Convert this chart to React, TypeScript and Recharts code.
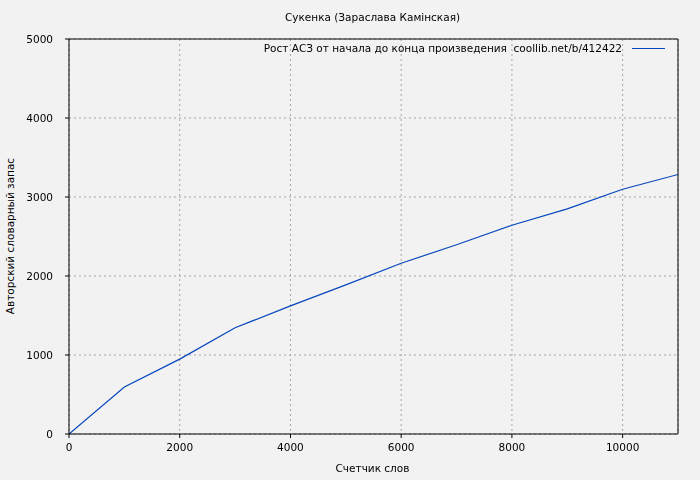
import { CartesianGrid, Line, LineChart, ReferenceLine, XAxis, YAxis } from "recharts";

const words = [0, 1000, 2000, 3000, 4000, 5000, 6000, 7000, 8000, 9000, 10000, 11000];
const vocab = [0, 595, 948, 1345, 1622, 1888, 2162, 2395, 2643, 2850, 3098, 3285];
const xTicks = [0, 2000, 4000, 6000, 8000, 10000];
const yTicks = [0, 1000, 2000, 3000, 4000, 5000];

const TITLE = "Сукенка (Зараслава Камінская)";
const SERIES_NAME = "Рост АСЗ от начала до конца произведения  coollib.net/b/412422";
const X_LABEL = "Счетчик слов";
const Y_LABEL = "Авторский словарный запас";

const FONT = "'DejaVu Sans', sans-serif";
const LINE_COLOR = "#0646bd";

const data = words.map((w, i) => ({ words: w, vocab: vocab[i] }));

export default function App() {
  return (
    <div style={{ position: "fixed", left: 0, top: 0, width: 700, height: 480, background: "#f2f2f2", fontFamily: FONT }}>
      <div style={{ position: "absolute", top: 11, left: 0, width: 745, textAlign: "center", fontSize: 10.5 }}>{TITLE}</div>
      <div style={{ position: "absolute", top: 462, left: 0, width: 745, textAlign: "center", fontSize: 10.5 }}>{X_LABEL}</div>
      <div
        style={{
          position: "absolute",
          left: 10,
          top: 236,
          transform: "translate(-50%, -50%) rotate(-90deg)",
          whiteSpace: "nowrap",
          fontSize: 10.5,
        }}
      >
        {Y_LABEL}
      </div>
      <LineChart width={700} height={480} data={data} margin={{ top: 39, right: 22, bottom: 16, left: 9 }}>
        <CartesianGrid stroke="#a6a6a6" strokeDasharray="2 3" />
        <XAxis
          dataKey="words"
          type="number"
          domain={[0, 11000]}
          ticks={xTicks}
          height={30}
          stroke="#000"
          tickSize={4}
          tickMargin={6}
          tick={{ fill: "#000", fontSize: 10.5, fontFamily: FONT }}
          allowDataOverflow
        />
        <YAxis
          type="number"
          domain={[0, 5000]}
          ticks={yTicks}
          width={60}
          stroke="#000"
          tickSize={4}
          tickMargin={12}
          tick={{ fill: "#000", fontSize: 10.5, fontFamily: FONT }}
        />
        <ReferenceLine y={5000} stroke="#000" />
        <ReferenceLine x={11000} stroke="#000" />
        <Line
          type="linear"
          dataKey="vocab"
          stroke={LINE_COLOR}
          strokeWidth={1.2}
          dot={false}
          isAnimationActive={false}
        />
      </LineChart>
      <div
        style={{
          position: "absolute",
          top: 42,
          right: 35,
          display: "flex",
          alignItems: "center",
          fontSize: 10.5,
          color: "#000",
        }}
      >
        <span style={{ whiteSpace: "pre" }}>{SERIES_NAME}</span>
        <span style={{ display: "inline-block", width: 33, height: 1, background: LINE_COLOR, marginLeft: 10 }} />
      </div>
    </div>
  );
}
